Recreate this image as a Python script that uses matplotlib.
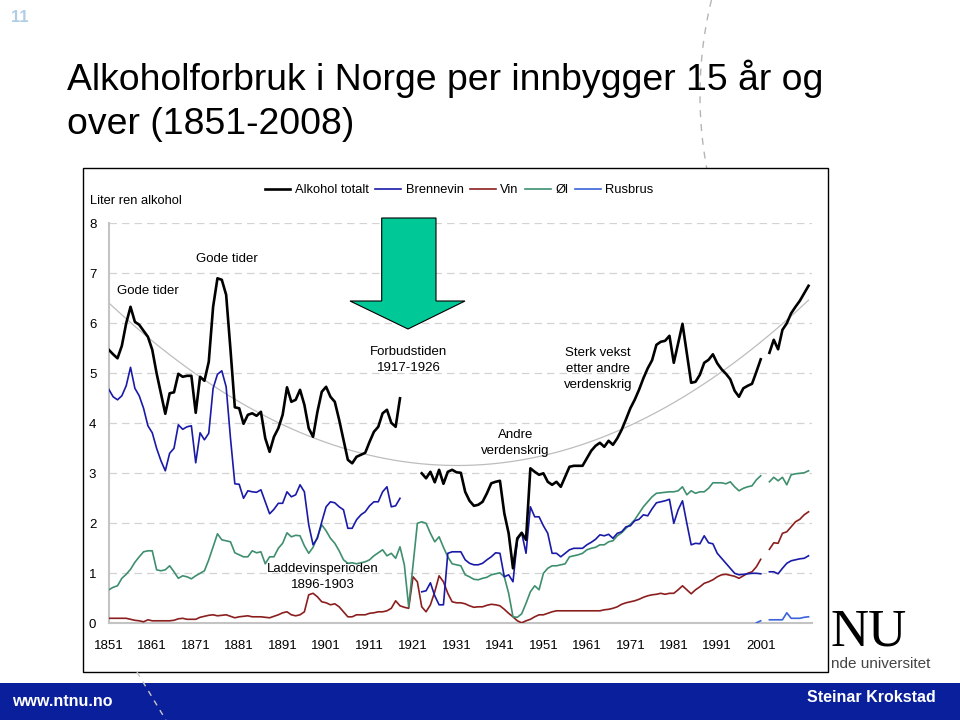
import numpy as np
import matplotlib
matplotlib.use('Agg')
import matplotlib.pyplot as plt
from matplotlib.patches import Rectangle, Polygon
from matplotlib.lines import Line2D

nan = np.nan

# category labels on the x axis (every 10th category)
year_labels = ['1851', '1861', '1871', '1881', '1891', '1901', '1911', '1921',
               '1931', '1941', '1951', '1961', '1971', '1981', '1991', '2001']
y_ticks = [0, 1, 2, 3, 4, 5, 6, 7, 8]

# liter ren alkohol per innbygger 15 år og over, one value per category
alkohol_totalt = [
    5.47, 5.38, 5.30, 5.55, 6.0, 6.33, 6.03, 5.97, 5.85, 5.73,
    5.47, 5.0, 4.6, 4.19, 4.6, 4.62, 4.99, 4.93, 4.95, 4.95,
    4.21, 4.93, 4.85, 5.23, 6.33, 6.9, 6.87, 6.57, 5.47, 4.32,
    4.3, 3.99, 4.17, 4.2, 4.15, 4.23, 3.7, 3.43, 3.73, 3.9,
    4.17, 4.72, 4.43, 4.47, 4.67, 4.37, 3.9, 3.73, 4.23, 4.63,
    4.73, 4.53, 4.43, 4.07, 3.67, 3.27, 3.2, 3.33, 3.37, 3.41,
    3.63, 3.83, 3.93, 4.2, 4.27, 4.01, 3.93, 4.5, nan, nan,
    nan, nan, 3.0, 2.9, 3.03, 2.82, 3.07, 2.79, 3.03, 3.07,
    3.02, 3.01, 2.63, 2.45, 2.35, 2.37, 2.43, 2.6, 2.8, 2.83,
    2.85, 2.2, 1.8, 1.1, 1.7, 1.81, 1.67, 3.1, 3.03, 2.97,
    3.0, 2.83, 2.77, 2.83, 2.73, 2.93, 3.13, 3.15, 3.15, 3.15,
    3.3, 3.45, 3.55, 3.61, 3.53, 3.65, 3.57, 3.7, 3.87, 4.08,
    4.3, 4.47, 4.67, 4.9, 5.1, 5.26, 5.57, 5.63, 5.65, 5.75,
    5.21, 5.6, 5.99, 5.4, 4.81, 4.83, 4.97, 5.21, 5.27, 5.38,
    5.2, 5.08, 4.99, 4.88, 4.65, 4.53, 4.7, 4.75, 4.79, 5.03,
    5.28, nan, 5.41, 5.67, 5.48, 5.87, 6.0, 6.2, 6.33, 6.45,
    6.6, 6.75]

brennevin = [
    4.68, 4.53, 4.47, 4.55, 4.75, 5.12, 4.7, 4.55, 4.3, 3.95,
    3.81, 3.5, 3.25, 3.05, 3.4, 3.5, 3.97, 3.88, 3.93, 3.95,
    3.21, 3.81, 3.67, 3.8, 4.7, 4.98, 5.05, 4.73, 3.7, 2.79,
    2.78, 2.5, 2.65, 2.63, 2.62, 2.67, 2.43, 2.19, 2.28, 2.4,
    2.4, 2.63, 2.53, 2.57, 2.77, 2.63, 1.97, 1.57, 1.7, 2.03,
    2.33, 2.43, 2.41, 2.33, 2.27, 1.9, 1.9, 2.07, 2.17, 2.23,
    2.35, 2.43, 2.43, 2.63, 2.73, 2.33, 2.35, 2.5, nan, nan,
    nan, nan, 0.63, 0.65, 0.81, 0.55, 0.37, 0.37, 1.4, 1.43,
    1.43, 1.43, 1.27, 1.2, 1.17, 1.17, 1.2, 1.27, 1.33, 1.41,
    1.4, 0.93, 0.97, 0.83, 1.67, 1.81, 1.4, 2.33, 2.13, 2.13,
    1.95, 1.8, 1.4, 1.4, 1.33, 1.4, 1.47, 1.5, 1.5, 1.5,
    1.57, 1.62, 1.68, 1.77, 1.75, 1.78, 1.7, 1.8, 1.83, 1.93,
    1.95, 2.05, 2.08, 2.17, 2.15, 2.29, 2.41, 2.43, 2.45, 2.48,
    2.0, 2.27, 2.45, 2.0, 1.57, 1.6, 1.59, 1.75, 1.61, 1.59,
    1.4, 1.3, 1.2, 1.1, 1.0, 0.97, 0.98, 0.99, 1.0, 1.0,
    0.99, nan, 1.03, 1.03, 0.99, 1.1, 1.2, 1.25, 1.27, 1.29,
    1.3, 1.35]

vin = [
    0.1, 0.1, 0.1, 0.1, 0.1, 0.08, 0.06, 0.05, 0.03, 0.07,
    0.05, 0.05, 0.05, 0.05, 0.05, 0.06, 0.09, 0.1, 0.08, 0.08,
    0.08, 0.12, 0.14, 0.16, 0.17, 0.15, 0.16, 0.17, 0.14, 0.11,
    0.13, 0.14, 0.15, 0.13, 0.13, 0.13, 0.12, 0.11, 0.14, 0.17,
    0.21, 0.23, 0.17, 0.15, 0.17, 0.23, 0.57, 0.6, 0.53, 0.43,
    0.41, 0.37, 0.39, 0.33, 0.23, 0.13, 0.13, 0.17, 0.17, 0.17,
    0.2, 0.21, 0.23, 0.23, 0.25, 0.3, 0.45, 0.35, 0.32, 0.3,
    0.93, 0.83, 0.33, 0.23, 0.37, 0.63, 0.95, 0.83, 0.6, 0.43,
    0.41, 0.41, 0.39, 0.35, 0.32, 0.33, 0.33, 0.36, 0.38, 0.37,
    0.35, 0.28, 0.2, 0.13, 0.05, 0.01, 0.05, 0.08, 0.13, 0.17,
    0.17, 0.2, 0.23, 0.25, 0.25, 0.25, 0.25, 0.25, 0.25, 0.25,
    0.25, 0.25, 0.25, 0.25, 0.27, 0.28, 0.3, 0.33, 0.38, 0.41,
    0.43, 0.45, 0.48, 0.52, 0.55, 0.57, 0.58, 0.6, 0.58, 0.6,
    0.6, 0.67, 0.75, 0.67, 0.59, 0.67, 0.73, 0.8, 0.83, 0.87,
    0.93, 0.97, 0.98, 0.96, 0.94, 0.9, 0.95, 1.0, 1.03, 1.13,
    1.28, nan, 1.48, 1.61, 1.6, 1.8, 1.83, 1.93, 2.03, 2.08,
    2.17, 2.23]

ol = [
    0.67, 0.72, 0.75, 0.9, 0.98, 1.08, 1.22, 1.33, 1.43, 1.45,
    1.45, 1.07, 1.05, 1.07, 1.15, 1.03, 0.9, 0.95, 0.93, 0.89,
    0.95, 1.0, 1.05, 1.27, 1.53, 1.79, 1.67, 1.65, 1.63, 1.41,
    1.37, 1.33, 1.33, 1.45, 1.41, 1.43, 1.19, 1.33, 1.33, 1.5,
    1.6, 1.81, 1.73, 1.76, 1.75, 1.55, 1.4, 1.52, 1.73, 1.97,
    1.85, 1.7, 1.6, 1.45, 1.27, 1.2, 1.21, 1.19, 1.21, 1.23,
    1.27, 1.35, 1.41, 1.47, 1.35, 1.4, 1.3, 1.53, 1.17, 0.33,
    1.17, 2.0, 2.03, 2.0, 1.8, 1.63, 1.73, 1.52, 1.33, 1.19,
    1.17, 1.15, 0.97, 0.93, 0.88, 0.87, 0.9, 0.92, 0.97, 0.99,
    1.01, 0.93, 0.6, 0.13, 0.12, 0.19, 0.4, 0.63, 0.75, 0.67,
    1.0, 1.1, 1.15, 1.15, 1.17, 1.19, 1.33, 1.35, 1.37, 1.4,
    1.47, 1.5, 1.52, 1.57, 1.57, 1.63, 1.65, 1.75, 1.81, 1.9,
    1.98, 2.07, 2.2, 2.33, 2.43, 2.53, 2.6, 2.61, 2.62, 2.63,
    2.63, 2.65, 2.73, 2.57, 2.65, 2.6, 2.63, 2.63, 2.7, 2.81,
    2.81, 2.81, 2.79, 2.83, 2.73, 2.65, 2.7, 2.73, 2.75, 2.87,
    2.95, nan, 2.83, 2.92, 2.85, 2.92, 2.77, 2.97, 2.99, 3.0,
    3.01, 3.05]

rusbrus = [nan] * 149 + [0.01, 0.05, nan, 0.07, 0.07, 0.07, 0.07, 0.21,
                         0.1, 0.1, 0.1, 0.12, 0.13]

W, H = 960, 720


def fx(x):
    return x / W


def fy(y):
    return 1 - y / H


plt.rcParams['font.family'] = ['Liberation Sans', 'DejaVu Sans']
fig = plt.figure(figsize=(9.6, 7.2), dpi=100)

# lysbilde-nummer og tittel
fig.text(fx(11), fy(18), '11', color='#B0CDE6', fontsize=12, fontweight='bold',
         va='center')
fig.text(fx(67), fy(90), 'Alkoholforbruk i Norge per innbygger 15 år og',
         fontsize=26.9, va='baseline')
fig.text(fx(67), fy(134), 'over (1851-2008)', fontsize=26.9, va='baseline')

# synlig del av NTNU-logoen til høyre for diagramboksen
fig.text(fx(831), fy(645), 'NU', family=['Liberation Serif', 'DejaVu Serif'],
         fontsize=38, ha='left', va='baseline', zorder=0)
fig.text(fx(831), fy(668), 'nde universitet', fontsize=11,
         color='#444444', ha='left', va='baseline', zorder=0)

# dekorative stiplede buer
yy = np.linspace(0, 168, 40)
fig.add_artist(Line2D(fx(1100 - np.sqrt(400 ** 2 - (yy - 95) ** 2)), fy(yy),
                      transform=fig.transFigure, color='#B5B5B5', lw=1,
                      ls=(0, (5, 5)), zorder=0))

# diagramboks
fig.add_artist(Rectangle((fx(83), fy(672)), (828 - 83) / W, (672 - 168) / H,
                         transform=fig.transFigure, facecolor='white',
                         edgecolor='black', lw=1, zorder=1))

# bunnlinje
fig.add_artist(Rectangle((0, 0), 1, (720 - 683) / H, transform=fig.transFigure,
                         facecolor='#0A1F9C', edgecolor='none', zorder=1))
fig.text(fx(12), fy(701), 'www.ntnu.no', color='white',
         fontweight='bold', fontsize=11.5, va='center', zorder=3)
fig.text(fx(936), fy(698), 'Steinar Krokstad', color='white',
         fontweight='bold', fontsize=11.5, ha='right', va='center', zorder=3)
yb = np.linspace(672, 720, 12)
fig.add_artist(Line2D(fx(137 + (yb - 672) * 0.6), fy(yb), transform=fig.transFigure,
                      color='#C8C8C8', lw=1, ls=(0, (4, 4)), zorder=2))

# selve diagrammet
ax = fig.add_axes([fx(108.8), fy(623.3), (812 - 108.8) / W, 400 / H])
ax.set_zorder(2)
ax.patch.set_alpha(0)

idx = np.arange(len(alkohol_totalt))
total = np.array(alkohol_totalt, dtype=float)

for v in y_ticks[1:]:
    ax.axhline(v, color='#D3D3D3', lw=0.9, ls=(0, (6, 4)), zorder=0)

# polynomisk trendlinje for totalforbruket
ok = ~np.isnan(total)
coef = np.polyfit(idx[ok], total[ok], 2)
ax.plot(idx, np.polyval(coef, idx), color='#BDBDBD', lw=0.9, zorder=1)

ax.plot(idx, vin, color='#8B1E1E', lw=1.2, label='Vin', zorder=3)
ax.plot(idx, ol, color='#3F8F6E', lw=1.2, label='Øl', zorder=3)
ax.plot(idx, brennevin, color='#1A1AA8', lw=1.2, label='Brennevin', zorder=4)
ax.plot(idx, rusbrus, color='#3A62DA', lw=1.2, label='Rusbrus', zorder=4)
ax.plot(idx, total, color='black', lw=1.9, label='Alkohol totalt', zorder=5)

handles, labels = ax.get_legend_handles_labels()
order = ['Alkohol totalt', 'Brennevin', 'Vin', 'Øl', 'Rusbrus']
hs = [handles[labels.index(o)] for o in order]
ax.legend(hs, order, loc='center', bbox_to_anchor=(fx(459), fy(190)),
          bbox_transform=fig.transFigure, ncol=5, frameon=False, fontsize=9.3,
          handlelength=2.0, handletextpad=0.35, columnspacing=0.5)

ax.set_xlim(0, 161.8)
ax.set_ylim(0, 8)
ax.set_xticks(np.arange(0, 10 * len(year_labels), 10))
ax.set_xticklabels(year_labels)
ax.set_yticks(y_ticks)
ax.tick_params(length=0, labelsize=9.5)
ax.tick_params(axis='x', pad=12)
ax.tick_params(axis='y', pad=9)
for s in ['top', 'right']:
    ax.spines[s].set_visible(False)
for s in ['left', 'bottom']:
    ax.spines[s].set_color('#C4C4C4')
    ax.spines[s].set_linewidth(1.5)

fig.text(fx(90), fy(201), 'Liter ren alkohol', fontsize=9.3, va='center', zorder=3)

# merknader
note = dict(fontsize=9.5, ha='center', va='center', zorder=6, linespacing=1.45)
ax.text(8.9, 6.65, 'Gode tider', **note)
ax.text(27.1, 7.29, 'Gode tider', **note)
ax.text(69.0, 5.27, 'Forbudstiden\n1917-1926', **note)
ax.text(93.6, 3.61, 'Andre\nverdenskrig', **note)
ax.text(112.5, 5.09, 'Sterk vekst\netter andre\nverdenskrig', **note)
ax.text(49.2, 0.93, 'Laddevinsperioden\n1896-1903', **note)

# grønn pil for forbudstiden
arrow = [(381.7, 218), (436, 218), (436, 301), (465, 301), (408, 329),
         (350, 301), (381.7, 301)]
fig.add_artist(Polygon([(fx(x), fy(y)) for x, y in arrow], closed=True,
                       transform=fig.transFigure, facecolor='#00C997',
                       edgecolor='black', lw=0.8, zorder=4))

plt.savefig('out.png', dpi=100)
